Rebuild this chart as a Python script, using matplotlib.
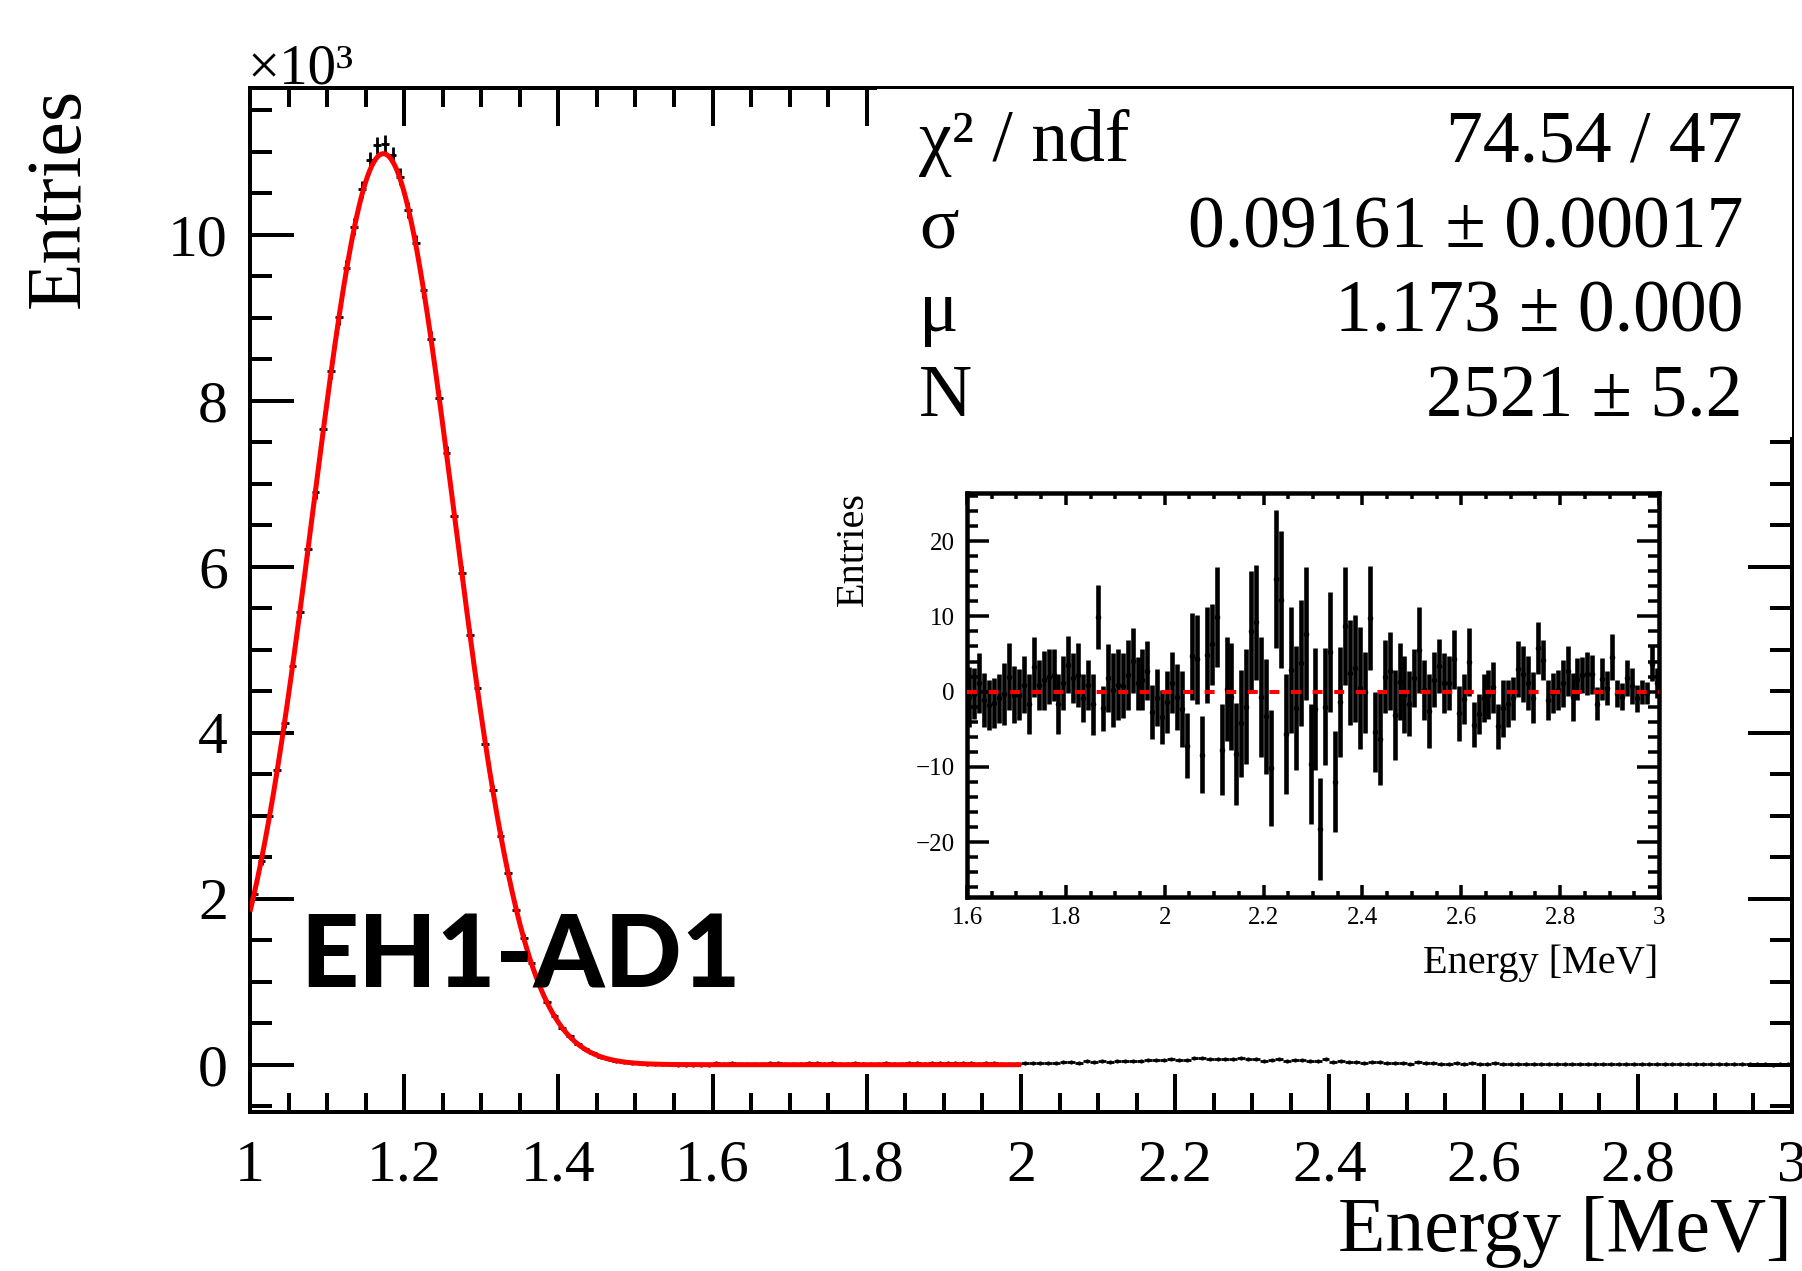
import numpy as np
import matplotlib
matplotlib.use("Agg")
import matplotlib.pyplot as plt
from matplotlib.ticker import MultipleLocator, FuncFormatter
from matplotlib.patches import Rectangle
from matplotlib.lines import Line2D

SERIF = ["Liberation Serif", "DejaVu Serif"]
plt.rcParams["font.family"] = SERIF

# ---- fit results (Gaussian, normalised amplitude) ----
fit_chi2, fit_ndf = 74.54, 47
fit_sigma, fit_sigma_err = 0.09161, 0.00017
fit_mu, fit_mu_err = 1.173, 0.000
fit_N, fit_N_err = 2521, 5.2
fit_lo, fit_hi = 1.0, 2.0

bin_width = 0.01

# entries per bin, 1.00-1.60 MeV, in units of 10^3
peak_counts_k = [
    2.06, 2.46, 3.00, 3.55, 4.12, 4.81, 5.46, 6.22, 6.90, 7.66,
    8.36, 9.01, 9.60, 10.10, 10.55, 10.90, 11.08, 11.10, 10.96, 10.70,
    10.30, 9.90, 9.33, 8.75, 8.04, 7.37, 6.61, 5.93, 5.18, 4.54,
    3.87, 3.31, 2.76, 2.31, 1.87, 1.53, 1.23, 0.97, 0.75, 0.59,
    0.44, 0.34, 0.25, 0.185, 0.135, 0.097, 0.069, 0.049, 0.034, 0.024,
    0.016, 0.011, 0.007, 0.005, 0.003, 0.002, 0.002, 0.001, 0.001, 0.001,
]

# entries per bin, 1.60-3.00 MeV
tail_counts = [
    16, 12, 16, 13, 11, 11, 11, 17, 19, 14, 12, 14, 16, 16, 11, 15, 13, 12, 16, 13,
    14, 11, 18, 10, 11, 17, 18, 9, 20, 24, 22, 18, 22, 18, 12, 16, 15, 13, 14, 13,
    17, 17, 19, 25, 18, 34, 35, 26, 41, 29, 44, 37, 48, 50, 46, 50, 58, 62, 58, 64,
    58, 59, 85, 83, 64, 71, 67, 71, 77, 64, 66, 46, 61, 64, 45, 53, 61, 49, 50, 66,
    29, 48, 28, 37, 24, 27, 36, 26, 26, 18, 14, 32, 16, 24, 13, 13, 16, 13, 15, 13,
    11, 20, 9, 7, 10, 11, 12, 9, 14, 10, 8, 14, 14, 13, 12, 12, 7, 7, 7, 7,
    10, 11, 10, 8, 6, 8, 7, 5, 8, 5, 9, 3, 3, 6, 6, 3, 3, 2, 5, 4,
]

# residuals (data - model) for 1.60-3.00 MeV, with their errors
resid_values = [
    -0.7, -0.3, 1.1, -1.1, -1.8, -1.5, -0.9, -0.3, 2.0, -0.4,
    -0.4, 0.9, -1.6, 3.3, 0.9, 1.5, 2.0, 2.2, -1.6, 1.1,
    3.6, 1.8, 2.2, -0.8, 0.9, -1.7, 9.9, -2.2, 1.8, 0.2,
    0.9, 0.8, 2.2, 4.1, 1.1, 1.6, 2.8, -2.7, -0.8, -3.4,
    -1.4, 1.2, -0.7, -2.3, -7.2, 4.7, 4.3, -8.4, 4.9, 6.3,
    9.9, -7.7, 0.4, -0.7, -8.3, -4.2, -2.0, 8.1, 9.2, -0.7,
    -3.3, -10.1, 15.0, 12.2, -5.6, 2.9, -2.2, 3.8, 7.7, -9.6,
    -2.3, -18.3, -2.0, 5.3, -12.0, -1.4, 8.7, 2.5, 3.1, 0.5,
    -0.1, 9.8, -5.4, -6.3, 2.0, 2.7, -3.1, 1.3, -0.4, -1.6,
    1.8, 5.5, 0.2, -2.6, 1.6, 3.4, 1.1, 1.1, 4.3, -2.9,
    -1.0, 3.9, -4.4, -3.0, -0.8, -0.4, 0.6, -4.6, -2.2, -1.6,
    -0.9, 3.0, 2.3, 1.1, -0.8, 5.8, 4.2, -1.1, -0.2, 0.2,
    1.1, 2.7, -0.7, 1.7, 2.2, 2.4, 2.3, -1.6, 1.7, 0.5,
    4.6, -0.2, -0.7, 1.8, 0.7, -0.9, 0.0, -0.2, 3.7, 1.2,
]
resid_errors = [
    4.0, 3.4, 4.0, 3.6, 3.3, 3.3, 3.3, 4.1, 4.4, 3.8,
    3.4, 3.8, 4.0, 4.0, 3.3, 3.9, 3.6, 3.5, 4.0, 3.6,
    3.8, 3.3, 4.2, 3.2, 3.3, 4.1, 4.3, 3.0, 4.5, 4.9,
    4.7, 4.3, 4.7, 4.3, 3.5, 4.0, 3.9, 3.6, 3.8, 3.6,
    4.1, 4.1, 4.4, 5.0, 4.3, 5.8, 5.9, 5.1, 6.4, 5.4,
    6.6, 6.1, 6.9, 7.1, 6.8, 7.1, 7.6, 7.9, 7.6, 8.0,
    7.6, 7.7, 9.2, 9.1, 8.0, 8.4, 8.2, 8.4, 8.8, 8.0,
    8.1, 6.8, 7.8, 8.0, 6.7, 7.3, 7.8, 7.0, 7.1, 8.1,
    5.4, 6.9, 5.3, 6.1, 4.9, 5.2, 6.0, 5.1, 5.1, 4.3,
    3.8, 5.7, 4.0, 4.9, 3.6, 3.6, 4.0, 3.6, 3.9, 3.6,
    3.3, 4.5, 3.0, 2.7, 3.2, 3.3, 3.4, 3.0, 3.8, 3.1,
    2.9, 3.7, 3.7, 3.6, 3.4, 3.4, 2.7, 2.7, 2.7, 2.7,
    3.1, 3.3, 3.2, 2.8, 2.4, 2.8, 2.6, 2.2, 2.8, 2.3,
    3.0, 1.8, 1.8, 2.4, 2.4, 1.8, 1.6, 1.5, 2.3, 2.0,
]

x_ticks_main = [1.0, 1.2, 1.4, 1.6, 1.8, 2.0, 2.2, 2.4, 2.6, 2.8, 3.0]
y_ticks_main = [0, 2, 4, 6, 8, 10]
x_ticks_inset = [1.6, 1.8, 2.0, 2.2, 2.4, 2.6, 2.8, 3.0]
y_ticks_inset = [-20, -10, 0, 10, 20]

W, H = 1802, 1271
PX = 0.72  # points per pixel at dpi 100


def gaus_n(x, n, mu, sigma):
    return n / (np.sqrt(2 * np.pi) * sigma) * np.exp(-0.5 * ((x - mu) / sigma) ** 2)


def fmt(v, _):
    return f"{v:g}".replace("-", "\u2212")


fig = plt.figure(figsize=(W / 100, H / 100), dpi=100)
fig.patch.set_facecolor("white")

# ---------------- main panel ----------------
ax = fig.add_axes([250 / W, 1 - 1112 / H, 1542 / W, 1024 / H])
counts_k = np.concatenate([np.array(peak_counts_k),
                           np.array(tail_counts, dtype=float) / 1000.0])
centers = 1.0 + bin_width * (np.arange(len(counts_k)) + 0.5)
errs_k = np.sqrt(counts_k * 1000.0) / 1000.0
ax.errorbar(centers, counts_k, yerr=errs_k, xerr=bin_width / 2, fmt="o",
            color="black", ms=3.0, mew=0, elinewidth=2.0, capsize=0, zorder=3)

xf = np.linspace(fit_lo, fit_hi, 800)
ax.plot(xf, gaus_n(xf, fit_N, fit_mu, fit_sigma) / 1000.0,
        color="#ff0000", lw=3.6, zorder=4, solid_capstyle="butt")

ax.set_xlim(1.0, 3.0)
ax.set_ylim(-0.57, 11.77)
ax.xaxis.set_major_locator(plt.FixedLocator(x_ticks_main))
ax.xaxis.set_minor_locator(MultipleLocator(0.05))
ax.yaxis.set_major_locator(plt.FixedLocator(y_ticks_main))
ax.yaxis.set_minor_locator(MultipleLocator(0.5))
ax.xaxis.set_major_formatter(FuncFormatter(fmt))
ax.yaxis.set_major_formatter(FuncFormatter(fmt))
for s in ax.spines.values():
    s.set_linewidth(4 * PX)
ax.tick_params(which="both", direction="in", top=True, right=True,
               width=4 * PX, labelsize=43)
ax.tick_params(axis="x", which="major", length=38 * PX, pad=20)
ax.tick_params(axis="x", which="minor", length=19 * PX)
ax.tick_params(axis="y", which="major", length=44 * PX, pad=16)
ax.tick_params(axis="y", which="minor", length=22 * PX)

fig.text(1792 / W, 1 - 1232 / H, "Energy [MeV]", ha="right", va="center",
         fontsize=56)
fig.text(60 / W, 1 - 88 / H, "Entries", rotation=90, ha="center", va="top",
         fontsize=56)
fig.text(247 / W, 1 - 84 / H, "\u00d710\u00b3", ha="left", va="baseline",
         fontsize=41)

fig.text(300 / W, 1 - 988 / H, "EH1-AD1", ha="left", va="baseline",
         fontsize=73, fontweight=900,
         family=["Lato", "Open Sans", "DejaVu Sans"], zorder=10)

# ---------------- statistics box ----------------
bx0, bx1, by0, by1 = 877, 1793, 88, 437
ax.add_patch(Rectangle((bx0 / W, 1 - by1 / H), (bx1 - bx0) / W, (by1 - by0) / H,
                       transform=fig.transFigure, facecolor="white",
                       edgecolor="none", clip_on=False, zorder=20))
ax.add_line(Line2D([bx0 / W, bx1 / W], [1 - by0 / H, 1 - by0 / H],
                   transform=fig.transFigure, color="black", lw=2 * PX,
                   clip_on=False, zorder=21))
ax.add_line(Line2D([bx1 / W, bx1 / W], [1 - by0 / H, 1 - by1 / H],
                   transform=fig.transFigure, color="black", lw=2 * PX,
                   clip_on=False, zorder=21))

stat_rows = [
    ("\u03c7\u00b2 / ndf", f"{fit_chi2:.2f} / {fit_ndf}"),
    ("\u03c3", f"{fit_sigma:.5f} \u00b1 {fit_sigma_err:.5f}"),
    ("\u03bc", f"{fit_mu:.3f} \u00b1 {fit_mu_err:.3f}"),
    ("N", f"{fit_N} \u00b1 {fit_N_err:.1f}"),
]
baselines = [161, 247, 331, 416]
for (lab, val), yb in zip(stat_rows, baselines):
    fig.text(919 / W, 1 - yb / H, lab, ha="left", va="baseline", fontsize=53,
             zorder=22)
    fig.text(1743 / W, 1 - yb / H, val, ha="right", va="baseline", fontsize=53,
             zorder=22)

# ---------------- residual inset ----------------
ax2 = fig.add_axes([967 / W, 1 - 897 / H, 692 / W, 404 / H])
rc = 1.6 + bin_width * (np.arange(len(resid_values)) + 0.5)
ax2.errorbar(rc, resid_values, yerr=resid_errors, fmt="o", color="black",
             ms=4.0, mew=0, elinewidth=4.6 * PX, capsize=0, zorder=3)
ax2.plot([1.6, 3.0], [0, 0], color="#ff0000", lw=4 * PX,
         linestyle=(0, (2.5, 2.9)), zorder=4)
ax2.set_xlim(1.6, 3.0)
ax2.set_ylim(-27.3, 26.4)
ax2.xaxis.set_major_locator(plt.FixedLocator(x_ticks_inset))
ax2.xaxis.set_minor_locator(MultipleLocator(0.05))
ax2.yaxis.set_major_locator(plt.FixedLocator(y_ticks_inset))
ax2.yaxis.set_minor_locator(MultipleLocator(2))
ax2.xaxis.set_major_formatter(FuncFormatter(fmt))
ax2.yaxis.set_major_formatter(FuncFormatter(fmt))
for s in ax2.spines.values():
    s.set_linewidth(4.5 * PX)
ax2.tick_params(which="both", direction="in", top=True, right=True,
                width=3.5 * PX, labelsize=18)
ax2.tick_params(axis="x", which="major", length=12 * PX, pad=7)
ax2.tick_params(axis="x", which="minor", length=6 * PX)
ax2.tick_params(axis="y", which="major", length=22 * PX, pad=9)
ax2.tick_params(axis="y", which="minor", length=11 * PX)

fig.text(1658 / W, 1 - 963 / H, "Energy [MeV]", ha="right", va="center",
         fontsize=29)
fig.text(853 / W, 1 - 492 / H, "Entries", rotation=90, ha="center", va="top",
         fontsize=29)

fig.savefig("out.png", dpi=100, facecolor="white")
